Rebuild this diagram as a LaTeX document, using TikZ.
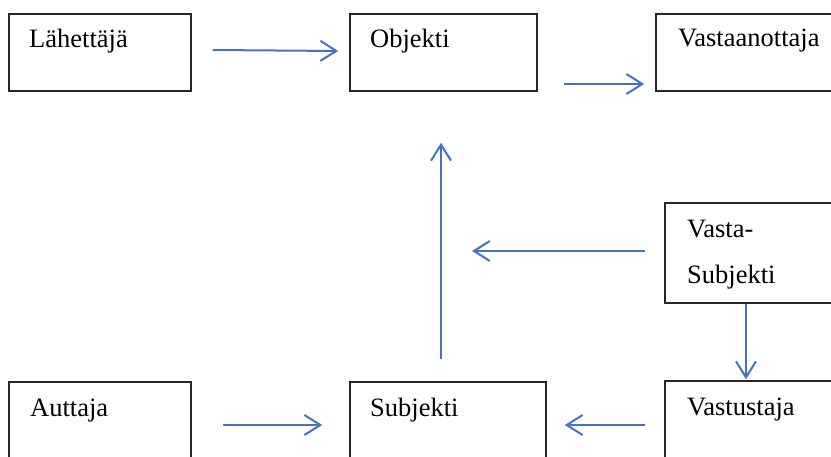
\documentclass[tikz,border=0pt]{standalone}
\usepackage{fontspec}
\setmainfont{Liberation Serif}
\usetikzlibrary{arrows.meta}

\definecolor{arrblue}{RGB}{68,114,196}
\tikzset{
  box/.style={draw=black!85, line width=1.5pt, rectangle, inner sep=0pt},
  txt/.style={anchor=base west, inner sep=0pt, font=\fontsize{26.5}{30}\selectfont},
  arr/.style={draw=arrblue, line width=2pt, -{Straight Barb[length=16pt,width=20pt,line width=2pt]}}
}

\begin{document}
\begin{tikzpicture}[x=1pt,y=-1pt]

      \clip (0,0) rectangle (831,457);

      % top row
      \node[box, minimum width=182, minimum height=77] (lah) at (100,52.5) {};
      \node[box, minimum width=187, minimum height=77] (obj) at (443.5,52.5) {};
      \node[box, minimum width=189, minimum height=77] (vas) at (750.5,52.5) {};
      \node[txt] (lahT) at (29,48) {Lähettäjä};
      \node[txt] (objT) at (370,48) {Objekti};
      \node[txt] (vasT) at (678,47) {Vastaanottaja};

      % middle
      \node[box, minimum width=185, minimum height=100] (vsub) at (757.5,253) {};
      \node[txt] (vsubT) at (687,238) {Vasta-};
      \node[txt] (vsubU) at (687,284) {Subjekti};

      % bottom row
      \node[box, minimum width=182, minimum height=88] (aut) at (100,426) {};
      \node[box, minimum width=196, minimum height=88] (sub) at (448,426) {};
      \node[box, minimum width=185, minimum height=89] (vst) at (757.5,425.5) {};
      \node[txt] (autT) at (30,417) {Auttaja};
      \node[txt] (subT) at (370,417) {Subjekti};
      \node[txt] (vstT) at (687,415) {Vastustaja};

      \coordinate (vsubEnd) at (472,251);

      \draw[arr] ([shift={(21,-2.5)}]lah.east) to ([shift={(-11,-1.5)}]obj.west);
      \draw[arr] ([shift={(26,31.5)}]obj.east) to ([shift={(-11,31.5)}]vas.west);
      \draw[arr] ([shift={(-7,-22)}]sub.north) to ([shift={(-2.5,51)}]obj.south);
      \draw[arr] ([shift={(-19,-2)}]vsub.west) to (vsubEnd);
      \draw[arr] ([shift={(-11.5,0)}]vsub.south) to ([shift={(-11.5,-1)}]vst.north);
      \draw[arr] ([shift={(31,-1)}]aut.east) to ([shift={(-27,-1)}]sub.west);
      \draw[arr] ([shift={(-19,-0.5)}]vst.west) to ([shift={(18,-1)}]sub.east);
    \end{tikzpicture}
\end{document}
